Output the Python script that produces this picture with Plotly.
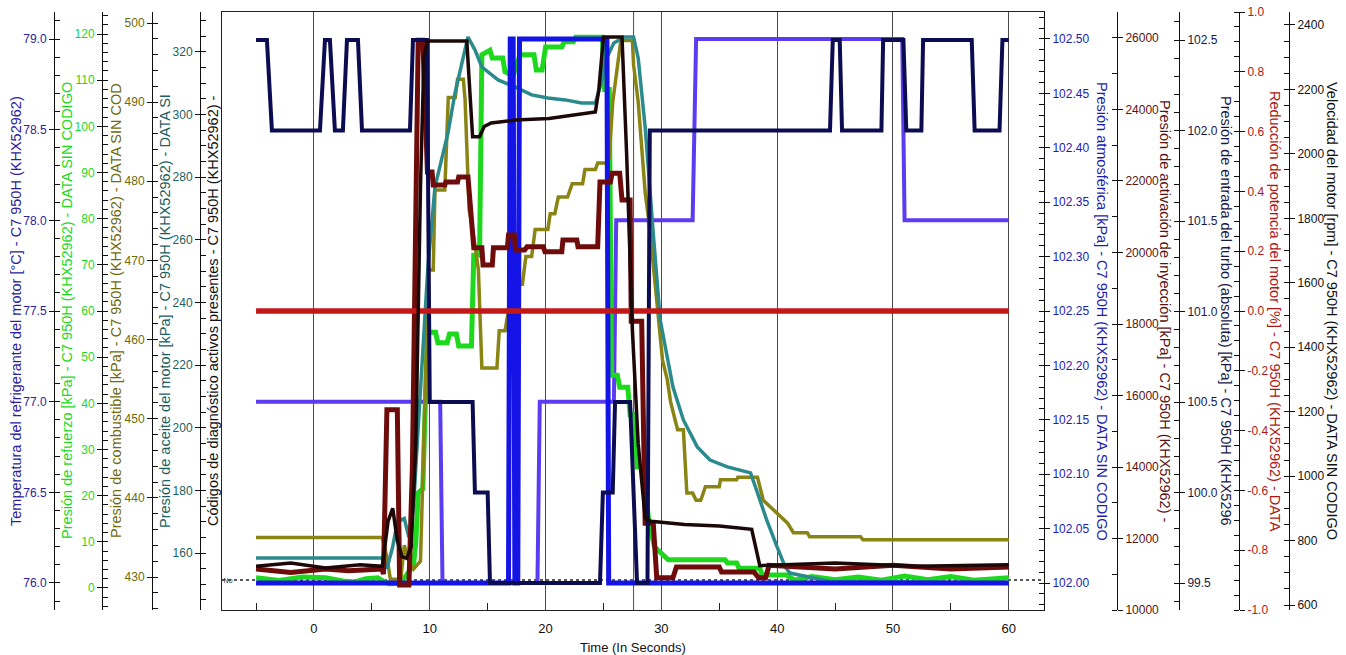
import plotly.graph_objects as go

FONT = "Liberation Sans, Arial, sans-serif"
W, H = 1346, 655

# ---- time window (seconds) ----
time_range = [-7.94, 63.04]
cursor_time = 27.6

# ---- series ----
# Temperatura del refrigerante del motor [°C]
coolant_t = [-5, 10.9, 11.1, 19.3, 19.5, 25.9, 26.1, 32.7, 33.0, 50.8, 51.0, 60]
coolant_v = [77.0, 77.0, 76.0, 76.0, 77.0, 77.0, 78.0, 78.0, 79.0, 79.0, 78.0, 78.0]

# Presión de refuerzo [kPa]
boost_t = [-5, -3, -1, 1, 2.5, 3.5, 4.5, 5.5, 6.0, 6.5, 7.5, 7.9, 8.3, 8.6, 8.8, 9.0, 9.4, 9.8,
           10.5, 10.7, 11.5, 11.7, 12.3, 12.5, 13.6, 13.8, 14.3, 14.5, 15.2, 15.4, 16.3, 16.5,
           17.2, 17.5, 17.8, 19.0, 19.2, 19.7, 20.0, 21.4, 21.6, 22.4, 22.6, 24.9, 25.1, 25.5,
           25.7, 26.2, 26.4, 27.1, 27.3, 27.7, 27.9, 28.4, 28.9, 29.4, 29.9, 30.6, 35.5, 35.7,
           36.5, 36.7, 38.5, 38.7, 40.8, 41.5, 43, 45, 47, 49, 51, 53, 55, 57, 60]
boost_v = [2.2, 1.6, 2.4, 2.2, 1.5, 1.3, 2.0, 2.2, 1.5, 0.9, 1.0, 2.5, 4.0, 5.0, 10.0, 20.6, 21.5, 55.4,
           55.4, 53.1, 53.1, 55.0, 55.0, 52.4, 52.4, 72.1, 72.1, 115.5, 116.5, 114.8, 114.8, 111.8,
           111.0, 113.3, 115.5, 115.5, 112.2, 112.2, 117.2, 117.2, 118.3, 118.3, 119.3, 119.3, 108.0, 108.0,
           46.1, 46.1, 43.5, 43.5, 37.5, 37.5, 26.2, 26.2, 14.7, 8.9, 7.6, 6.1, 6.1, 5.4,
           5.4, 4.3, 4.3, 2.8, 2.8, 1.7, 2.5, 1.8, 2.4, 1.7, 2.6, 1.8, 2.5, 1.7, 2.2]

# Presión de combustible [kPa]
fuel_t = [-5, 5.9, 6.3, 6.6, 7.5, 7.8, 8.2, 8.6, 9.2, 9.9, 10.3, 10.45, 11.3, 11.6, 12.2, 12.4, 12.9,
          13.05, 13.4, 13.7, 14.2, 14.5, 15.8, 16.0, 16.5, 16.8, 17.1, 17.4, 18.0, 18.3, 18.8, 19.1,
          20.2, 20.4, 20.8, 21.1, 21.9, 22.3, 23.2, 23.4, 24.3, 24.5, 25.3, 25.5, 25.8, 26.2, 26.5,
          27.5, 27.6, 28.0, 28.6, 29.0, 29.5, 30.1, 30.5, 30.8, 31.4, 31.9, 32.2, 32.7, 33.0, 33.4,
          33.8, 35.0, 35.1, 36.5, 36.6, 38.3, 38.8, 40.0, 40.9, 41.4, 42.6, 42.8, 47.2, 47.4, 60]
fuel_v = [435.0, 435.0, 432.5, 429.7, 429.7, 434.0, 432.0, 431.0, 432.0, 468.8, 468.8, 478.9, 478.9,
          490.6, 490.6, 492.9, 492.9, 490.3, 476.4, 474.0, 468.8, 456.4, 456.4, 461.1, 461.1, 463.7,
          463.7, 467.0, 467.0, 470.5, 470.5, 473.9, 473.9, 475.9, 475.9, 478.0, 478.0, 479.7, 479.7,
          481.5, 481.5, 482.3, 482.3, 483.0, 490.0, 495.0, 497.8, 497.8, 494.7, 490.0, 478.6, 474.0,
          466.0, 457.4, 455.0, 452.1, 448.6, 448.6, 440.6, 440.6, 439.7, 439.7, 441.4, 441.4, 442.3,
          442.3, 442.6, 442.6, 439.7, 438.1, 436.8, 435.6, 435.6, 435.1, 435.1, 434.7, 434.7]

# Presión de aceite del motor [kPa]
oil_t = [-5, 5.9, 6.3, 6.8, 7.2, 7.8, 8.2, 8.6, 9.0, 9.5, 9.84, 10.45, 11.57, 12.18, 13.3, 13.9,
         14.5, 15.9, 17.4, 18.8, 20.2, 21.7, 23.1, 24.3, 24.8, 25.2, 25.9, 26.8, 27.6, 28.0, 28.6,
         29.3, 29.9, 31.0, 31.9, 33.1, 34.2, 35.7, 37.7, 38.3, 39.1, 40.0, 40.7, 41.1, 44.5, 60]
oil_v = [158.4, 158.4, 155.0, 162.0, 170.0, 171.0, 165.0, 175.0, 200.0, 230.0, 251.3, 276.9, 294.1,
         306.9, 324.8, 320.7, 315.2, 311.1, 308.8, 306.3, 305.3, 304.7, 303.7, 303.7, 310.0, 317.5,
         322.9, 324.8, 324.8, 318.0, 296.0, 262.0, 234.4, 213.0, 202.5, 193.9, 189.7, 187.5, 185.6,
         179.2, 170.5, 161.9, 155.5, 153.6, 151.0, 150.5]

# Códigos de diagnóstico activos presentes ("No" = 0)
diag_value = 0
diag_labels = ["No"]

# Presión atmosférica [kPa]
atm_t = [-5, 16.8, 16.95, 17.2, 17.35, 17.6, 17.75, 25.3, 25.45, 60]
atm_v = [102.0, 102.0, 102.5, 102.5, 102.0, 102.0, 102.5, 102.5, 102.0, 102.0]

# Presión de activación de inyección [kPa]
inj_t = [-5, -2, 1, 3, 5.9, 6.0, 6.3, 7.2, 7.4, 8.2, 8.5, 8.7, 9.0, 9.4, 9.8, 10.2, 10.3, 11.3,
         11.4, 12.4, 12.5, 13.3, 13.5, 13.8, 14.5, 14.6, 15.4, 15.5, 16.7, 16.8, 17.3, 17.4, 18.2,
         18.4, 19.8, 19.95, 21.4, 21.5, 22.7, 22.8, 24.5, 24.7, 25.6, 25.75, 26.4, 26.6, 27.3, 27.4,
         28.3, 28.6, 29.3, 29.6, 31.0, 31.3, 35.0, 35.2, 38.0, 38.4, 39.0, 39.3, 45, 50, 55, 60]
inj_v = [11150, 11050, 11150, 11100, 11150, 11000, 15600, 15600, 10700, 10700, 14000, 20000, 25940,
         25940, 22250, 22250, 21890, 21890, 21970, 21970, 22110, 22110, 21270, 20130, 20130, 19650,
         19650, 20130, 20130, 20490, 20490, 20070, 20070, 20160, 20160, 20020, 20020, 20350, 20350,
         20160, 20160, 21970, 21970, 22220, 22220, 21470, 21470, 18080, 18080, 12430, 12430, 10900,
         10900, 11200, 11200, 11060, 11060, 10900, 10900, 11250, 11150, 11250, 11150, 11200]

# Presión de entrada del turbo (absoluta) [kPa]
turbo_t = [-5, -4.06, -3.63, 0.52, 0.95, 1.38, 1.81, 2.50, 2.85, 3.80, 4.15, 8.29, 8.55, 9.76,
           10.0, 13.7, 13.9, 15.0, 15.2, 24.7, 24.95, 25.8, 26.0, 27.3, 27.9, 28.8, 29.0, 44.56,
           44.8, 45.4, 45.6, 49.0, 49.15, 50.9, 51.15, 52.45, 52.6, 56.8, 57.05, 59.2, 59.45, 60]
turbo_v = [102.5, 102.5, 102.0, 102.0, 102.5, 102.5, 102.0, 102.0, 102.5, 102.5, 102.0, 102.0,
           102.5, 102.5, 100.5, 100.5, 100.0, 100.0, 99.5, 99.5, 100.0, 100.0, 100.5, 100.5, 99.5,
           99.5, 102.0, 102.0, 102.5, 102.5, 102.0, 102.0, 102.5, 102.5, 102.0, 102.0, 102.5, 102.5,
           102.0, 102.0, 102.5, 102.5]

# Reducción de potencia del motor [%]
power_t = [-5, 60]
power_v = [0.0, 0.0]

# Velocidad del motor [rpm]
rpm_t = [-5, -2, 1, 4, 5.9, 6.4, 6.8, 7.2, 7.6, 8.0, 8.4, 8.8, 9.2, 9.5, 9.8, 13.2, 13.45, 13.7,
         14.3, 14.7, 15.3, 17.4, 20.3, 23.2, 24.3, 24.6, 25.0, 26.6, 27.0, 27.5, 28.0, 28.6, 29.1,
         32.0, 35.0, 37.8, 38.0, 38.5, 45, 52, 60]
rpm_v = [720, 730, 715, 725, 720, 860, 900, 800, 750, 745, 780, 1100, 1900, 2300, 2350, 2350, 2200,
         2053, 2053, 2085, 2096, 2105, 2110, 2125, 2130, 2200, 2363, 2363, 2000, 1450, 1100, 870, 860,
         850, 845, 835, 800, 722, 730, 720, 725]

# ---- axis tick labels ----
power_ticks = [-1.0, -0.8, -0.6, -0.4, -0.2, 0.0, 0.2, 0.4, 0.6, 0.8, 1.0]
power_ticktext = [f"{v:.1f}" for v in power_ticks]

# ---- colours ----
C_COOL_AX, C_COOL = "#2c1d9c", "#5b3cf0"
C_BOOST = "#1ed81e"
C_FUEL_AX, C_FUEL = "#6f6a0c", "#8a8414"
C_OIL_AX, C_OIL = "#1b5f62", "#2a8a8c"
C_ATM_AX, C_ATM = "#1c1cb0", "#1414e6"
C_INJ_AX, C_INJ = "#5a1212", "#6e0c0c"
C_TURBO_AX, C_TURBO = "#17174a", "#0c0c52"
C_POWER_AX, C_POWER = "#b01616", "#c41818"
C_RPM_AX, C_RPM = "#111111", "#1c0808"

fig = go.Figure()


def add(t, v, axis, color, width, name):
    fig.add_trace(go.Scatter(x=t, y=v, yaxis=axis, mode="lines", name=name,
                             line=dict(color=color, width=width), showlegend=False))


add(turbo_t, turbo_v, "y8", C_TURBO, 4, "Turbo")
add(atm_t, atm_v, "y6", C_ATM, 5, "Atmosférica")
add(coolant_t, coolant_v, "y2", C_COOL, 4, "Refrigerante")
add(oil_t, oil_v, "y5", C_OIL, 3.5, "Aceite")
add(fuel_t, fuel_v, "y4", C_FUEL, 3.5, "Combustible")
add(power_t, power_v, "y9", C_POWER, 5.5, "Reducción")
add(inj_t, inj_v, "y7", C_INJ, 5, "Inyección")
add(rpm_t, rpm_v, "y10", C_RPM, 3.5, "rpm")
add(boost_t, boost_v, "y3", C_BOOST, 5, "Refuerzo")

tick_font = dict(family=FONT, size=12)


def yax(rng, dtick, minor_dtick, color, fmt, side, position=None, tickvals=None, ticktext=None):
    ax = dict(
        range=rng, side=side, showgrid=False, zeroline=False,
        showline=True, linecolor="#111", linewidth=1,
        ticks="outside", ticklen=5, tickcolor="#111",
        tickfont=dict(tick_font, color=color),
        minor=dict(ticks="inside", ticklen=5, tickcolor="#111", dtick=minor_dtick,
                   tick0=0, tickmode="linear", showgrid=False),
        overlaying="y",
    )
    if tickvals is not None:
        ax.update(tickmode="array", tickvals=tickvals, ticktext=ticktext)
    else:
        ax.update(tickmode="linear", dtick=dtick, tick0=0, tickformat=fmt)
    if position is None:
        ax["anchor"] = "x"
    else:
        ax.update(anchor="free", position=position)
    return ax


x0, x1 = 222 / W, 1044 / W

fig.update_layout(
    width=W, height=H, autosize=False,
    margin=dict(l=0, r=0, t=12, b=45),
    paper_bgcolor="white", plot_bgcolor="white",
    font=dict(family=FONT, size=12, color="#111"),
    xaxis=dict(
        domain=[x0, x1], range=time_range,
        tickmode="linear", tick0=0, dtick=10,
        showgrid=True, gridcolor="#4a4a4a", gridwidth=1,
        zeroline=False, showline=True, mirror=True, linecolor="#222", linewidth=1,
        ticks="", ticklabelstandoff=6,
        tickfont=dict(family=FONT, size=13, color="#111"),
        minor=dict(ticks="inside", ticklen=7, dtick=5, tick0=0, tickcolor="#222", showgrid=False),
    ),
    # diagnostic codes axis sits on the plot's left border
    yaxis=dict(
        range=[-0.05, 0.95], side="left", anchor="x",
        tickmode="array", tickvals=[diag_value], ticktext=diag_labels,
        ticklabelposition="inside", ticks="", showgrid=False, zeroline=False,
        showline=True, linecolor="#222", linewidth=1,
        tickfont=dict(family=FONT, size=7, color="#333"),
    ),
    yaxis2=yax([75.851, 79.149], 0.5, 0.1, C_COOL_AX, ".1f", "left", 54 / W),
    yaxis3=yax([-4.77, 124.77], 10, 2, C_BOOST, "d", "left", 102 / W),
    yaxis4=yax([425.83, 501.39], 10, 2, C_FUEL_AX, "d", "left", 152 / W),
    yaxis5=yax([141.8, 332.77], 20, 5, C_OIL_AX, "d", "left", 200 / W),
    yaxis6=yax([101.9752, 102.5248], 0.05, 0.01, C_ATM_AX, ".2f", "right"),
    yaxis7=yax([10000, 26727], 2000, 1000, C_INJ_AX, "d", "right", 1117 / W),
    yaxis8=yax([99.351, 102.655], 0.5, 0.1, C_TURBO_AX, ".1f", "right", 1179 / W),
    yaxis9=yax([-1.0, 1.0], None, 0.05, C_POWER_AX, None, "right", 1239 / W,
               tickvals=power_ticks, ticktext=power_ticktext),
    yaxis10=yax([584.5, 2440.3], 200, 50, C_RPM_AX, "d", "right", 1289 / W),
)

# dotted "No" reference for the diagnostic codes and the time cursor
fig.add_shape(type="line", xref="x domain", x0=0, x1=1, yref="y", y0=diag_value, y1=diag_value,
              line=dict(color="#222", width=1.5, dash="dot"), layer="below")
fig.add_shape(type="line", xref="x", x0=cursor_time, x1=cursor_time, yref="paper", y0=0, y1=1,
              line=dict(color="#4a4a4a", width=1), layer="below")

# rotated axis titles
left_titles = [
    ("Temperatura del refrigerante del motor [°C] - C7 950H (KHX52962)", 16, C_COOL_AX),
    ("Presión de refuerzo [kPa] - C7 950H (KHX52962) - DATA SIN CODIGO", 67, C_BOOST),
    ("Presión de combustible [kPa] - C7 950H (KHX52962) - DATA SIN COD", 116, C_FUEL_AX),
    ("Presión de aceite del motor [kPa] - C7 950H (KHX52962) - DATA SI", 165, C_OIL_AX),
    ("Códigos de diagnóstico activos presentes - C7 950H (KHX52962) -", 213, "#111"),
]
right_titles = [
    ("Presión atmosférica [kPa] - C7 950H (KHX52962) - DATA SIN CODIGO", 1102, C_ATM_AX),
    ("Presión de activación de inyección [kPa] - C7 950H (KHX52962) -", 1165, C_INJ_AX),
    ("Presión de entrada del turbo (absoluta) [kPa] - C7 950H (KHX5296", 1226, C_TURBO_AX),
    ("Reducción de potencia del motor [%] - C7 950H (KHX52962) - DATA", 1275, C_POWER_AX),
    ("Velocidad del motor [rpm] - C7 950H (KHX52962) - DATA SIN CODIGO", 1332, C_RPM_AX),
]
for text, xp, col in left_titles:
    fig.add_annotation(text=text, x=xp / W, y=0.5, xref="paper", yref="paper", textangle=-90,
                       showarrow=False, xanchor="center", yanchor="middle",
                       font=dict(family=FONT, size=14.5, color=col))
for text, xp, col in right_titles:
    fig.add_annotation(text=text, x=xp / W, y=0.5, xref="paper", yref="paper", textangle=90,
                       showarrow=False, xanchor="center", yanchor="middle",
                       font=dict(family=FONT, size=14.5, color=col))

fig.add_annotation(text="Time (In Seconds)", x=633 / W, y=(610 - 647) / 598, xref="paper",
                   yref="paper", showarrow=False, xanchor="center", yanchor="middle",
                   font=dict(family=FONT, size=13, color="#111"))

fig.write_html("out.html")
